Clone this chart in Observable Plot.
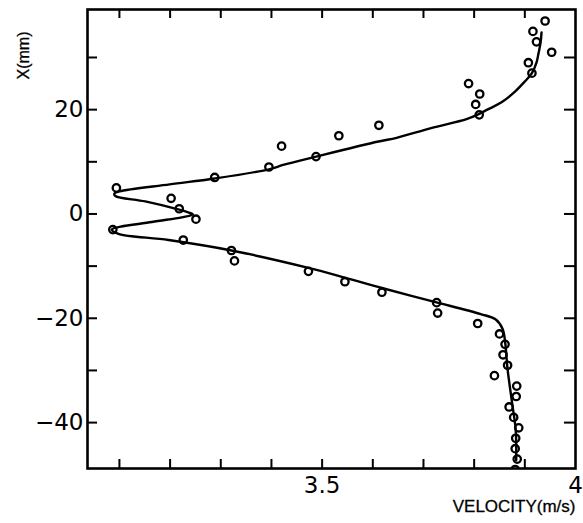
<!DOCTYPE html>
<html><head><meta charset="utf-8">
<script src="https://cdn.jsdelivr.net/npm/d3@7"></script>
<script src="https://cdn.jsdelivr.net/npm/@observablehq/plot@0.6"></script>
<style>body{margin:0;background:#fff} svg{display:block;background:#fff}</style>
</head><body><div id="chart"></div>
<script>
// Measured points: position X (mm) and velocity (m/s)
const pointPos = [37,35,33,31,29,27,25,23,21,19,17,15,13,11,9,7,5,3,1,-1,-3,-5,-7,-9,-11,-13,-15,-17,-19,-21,-23,-25,-27,-29,-31,-33,-35,-37,-39,-41,-43,-45,-47,-49];
const pointVel = [3.940,3.916,3.923,3.953,3.907,3.914,3.789,3.811,3.803,3.810,3.612,3.533,3.420,3.488,3.395,3.288,3.094,3.202,3.218,3.251,3.087,3.226,3.321,3.327,3.473,3.545,3.618,3.726,3.728,3.807,3.850,3.861,3.857,3.866,3.840,3.884,3.883,3.869,3.878,3.888,3.882,3.881,3.885,3.881];
// Computed profile curve
const curvePos = [34.8,32.8,30.8,29,27,25.4,23.4,21.4,20.1,19,18.2,16.45,14.6,13.9,11,9.4,8.6,6.8,5.67,4.33,3.9,3.44,2.4,0.82,0.27,-0.1,-0.64,-1.55,-3,-3.8,-5,-7,-10.33,-12.2,-14.2,-16.8,-19.2,-20.2,-22,-24.45,-29.8,-36.3,-41.4,-47.2];
const curveVel = [3.933,3.931,3.927,3.923,3.914,3.900,3.880,3.854,3.828,3.806,3.785,3.715,3.647,3.611,3.488,3.423,3.397,3.288,3.199,3.100,3.090,3.092,3.151,3.218,3.237,3.245,3.223,3.164,3.085,3.098,3.197,3.321,3.473,3.545,3.618,3.720,3.813,3.842,3.856,3.861,3.866,3.875,3.882,3.883];
// Axes
const xTickValues = [3.1,3.2,3.3,3.4,3.5,3.6,3.7,3.8,3.9];
const xTickLabels = [3.5, 4];
const yTickValues = [-40,-30,-20,-10,0,10,20,30];
const yTickLabels = [-40,-20,0,20];
const xLabel = "VELOCITY(m/s)";
const yLabel = "X(mm)";

const points = pointPos.map((p, i) => ({pos: p, vel: pointVel[i]}));
const curve = curvePos.map((p, i) => ({pos: p, vel: curveVel[i]}));

const W = 583, H = 523, mL = 87, mR = 8, mT = 9, mB = 55;
const innerW = W - mL - mR, innerH = H - mT - mB;
const fmt = d => d < 0 ? "\u2212" + Math.abs(d) : String(d);

const chart = Plot.plot({
  width: W, height: H,
  marginLeft: mL, marginRight: mR, marginTop: mT, marginBottom: mB,
  x: {domain: [3.037, 4.0]},
  y: {domain: [-48.8, 39.2]},
  style: {background: "#fff", color: "#000"},
  marks: [
    Plot.tickX(xTickValues, {x: d => d, insetTop: innerH - 9, strokeWidth: 2, stroke: "#000"}),
    Plot.tickX(xTickValues, {x: d => d, insetBottom: innerH - 9, strokeWidth: 2, stroke: "#000"}),
    Plot.tickY(yTickValues, {y: d => d, insetRight: innerW - 10, strokeWidth: 2, stroke: "#000"}),
    Plot.tickY(yTickValues, {y: d => d, insetLeft: innerW - 11, strokeWidth: 2, stroke: "#000"}),
    Plot.line(curve, {x: "vel", y: "pos", curve: "catmull-rom", stroke: "#000", strokeWidth: 2.4}),
    Plot.dot(points, {x: "vel", y: "pos", r: 3.7, stroke: "#000", strokeWidth: 2.3, fill: "none", clip: true}),
    Plot.frame({stroke: "#000", strokeWidth: 2.6}),
    Plot.axisX(xTickLabels, {tickSize: 0, tickPadding: 8, fontSize: 23, fontFamily: "DejaVu Sans", stroke: "#000", strokeWidth: 0.7, tickFormat: fmt, label: null}),
    Plot.axisY(yTickLabels, {tickSize: 0, tickPadding: 4, fontSize: 23, fontFamily: "DejaVu Sans", stroke: "#000", strokeWidth: 0.7, tickFormat: fmt, label: null}),
    Plot.text([xLabel], {text: d => d, frameAnchor: "bottom-right", dy: 43, textAnchor: "end", fontSize: 17, fontFamily: "Liberation Sans", fill: "#000", stroke: "#000", strokeWidth: 0.3}),
    Plot.text([yLabel], {text: d => d, frameAnchor: "top-left", dx: -70, dy: 46, rotate: -90, textAnchor: "middle", fontSize: 16, fontFamily: "Liberation Sans", fill: "#000", stroke: "#000", strokeWidth: 0.3})
  ]
});
document.getElementById("chart").appendChild(chart);
</script>
</body></html>
